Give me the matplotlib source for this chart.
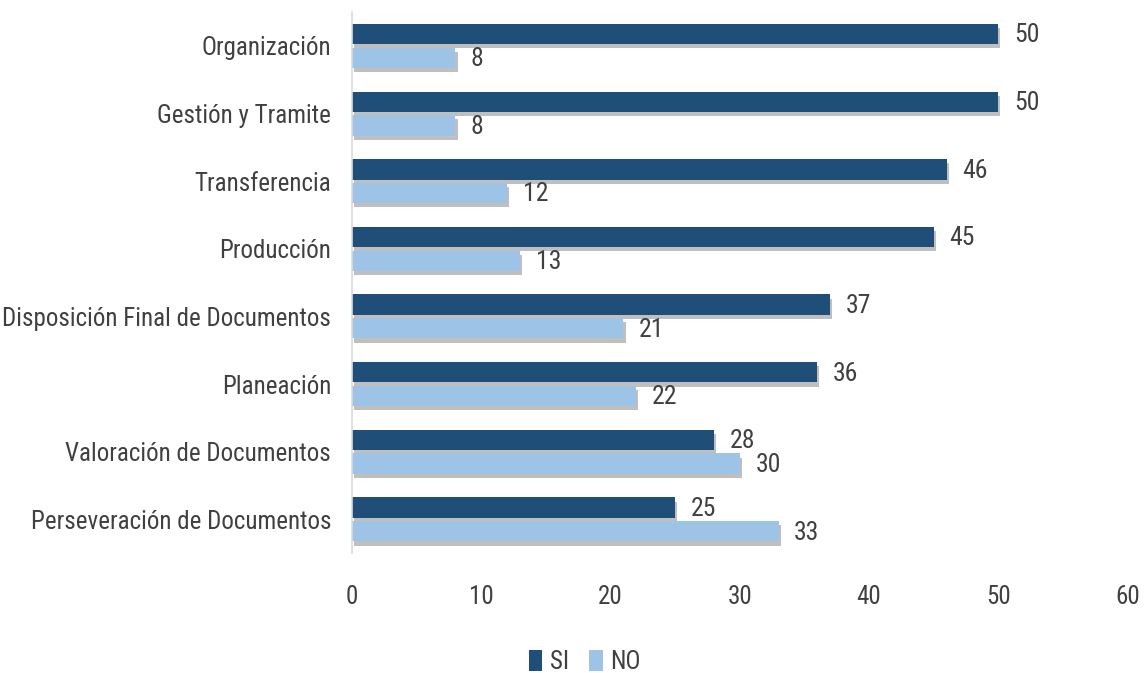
import matplotlib
matplotlib.use("Agg")
import matplotlib.pyplot as plt
import matplotlib.patheffects as pe
import numpy as np
from matplotlib import font_manager

categories = ["Organización", "Gestión y Tramite", "Transferencia", "Producción",
              "Disposición Final de Documentos", "Planeación",
              "Valoración de Documentos", "Perseveración de Documentos"]
si_values = [50, 50, 46, 45, 37, 36, 28, 25]
no_values = [8, 8, 12, 13, 21, 22, 30, 33]
series_names = ["SI", "NO"]
xticks = [0, 10, 20, 30, 40, 50, 60]

# pick a condensed font if one is installed
cand = []
for f in font_manager.fontManager.ttflist:
    fn = f.fname.lower()
    if ('narrow' in fn or 'condensed' in fn or 'cond' in str(f.stretch)) and 'bold' not in fn \
            and 'italic' not in fn and 'oblique' not in fn and f.style == 'normal' and f.weight in (400, 'normal', 'regular'):
        cand.append(f)
pref = ["Liberation Sans Narrow", "Roboto Condensed", "Open Sans Condensed", "DejaVu Sans", "Noto Sans", "Open Sans", "Roboto"]
chosen = None
for p in pref:
    for f in cand:
        if f.name == p:
            chosen = f
            break
    if chosen:
        break
if chosen is None and cand:
    chosen = cand[0]

if chosen is not None:
    FP = dict(fname=chosen.fname)
    fs = 18
else:
    FP = dict(family=['Liberation Sans', 'DejaVu Sans'])
    fs = 15

def fp(size):
    return font_manager.FontProperties(size=size, **FP)

SI_C = "#1F4E79"
NO_C = "#9DC3E6"
TXT = "#404040"

fig = plt.figure(figsize=(11.44, 6.73), dpi=100)
ax = fig.add_axes([0.3077, 0.178, 0.678, 0.804])

y = np.arange(len(categories))
h = 0.30
off = 0.175
shadow = [pe.SimplePatchShadow(offset=(1.5, -3), shadow_rgbFace='black', alpha=0.25), pe.Normal()]
b1 = ax.barh(y - off, si_values, height=h, color=SI_C, label=series_names[0], path_effects=shadow)
b2 = ax.barh(y + off, no_values, height=h, color=NO_C, label=series_names[1], path_effects=shadow)

for bars, vals in ((b1, si_values), (b2, no_values)):
    for bar, v in zip(bars, vals):
        ax.text(bar.get_width() + 1.2, bar.get_y() + bar.get_height() / 2 + 0.02, str(v),
                ha='left', va='center', fontproperties=fp(fs + 0.5), color=TXT)

ax.set_yticks(y)
ax.set_yticklabels(categories, color=TXT)
for t in ax.get_yticklabels():
    t.set_fontproperties(fp(fs))
ax.set_ylim(len(categories) - 0.5, -0.5)
ax.set_xlim(0, 60)
ax.set_xticks(xticks)
ax.set_xticklabels([str(t) for t in xticks], color=TXT)
for t in ax.get_xticklabels():
    t.set_fontproperties(fp(fs))
ax.tick_params(axis='both', length=0)
ax.tick_params(axis='x', pad=23)
ax.tick_params(axis='y', pad=15)
for s in ['top', 'right', 'bottom']:
    ax.spines[s].set_visible(False)
ax.spines['left'].set_color('#D9D9D9')
ax.spines['left'].set_linewidth(1.2)

leg = fig.legend(handles=[b1, b2], labels=series_names, loc='center', bbox_to_anchor=(0.511, 0.016),
                 ncol=2, frameon=False, prop=fp(fs), handlelength=0.55, handleheight=0.9,
                 handletextpad=0.3, columnspacing=0.8, labelcolor=TXT)
for hnd in leg.legend_handles:
    hnd.set_path_effects([])

fig.savefig("out.png", dpi=100)
